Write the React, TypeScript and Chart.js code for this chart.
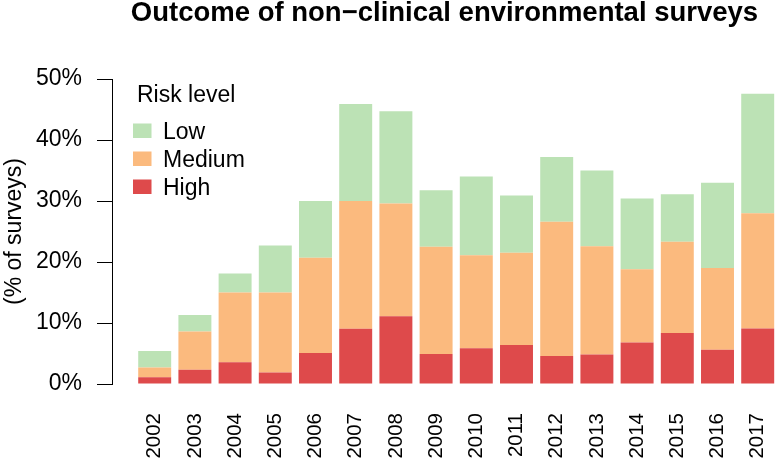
import { useEffect, useRef } from "react";
import { Chart, registerables } from "chart.js";

Chart.register(...registerables);

// ---- data (percent of surveys) ----
const years = ["2002", "2003", "2004", "2005", "2006", "2007", "2008", "2009", "2010", "2011", "2012", "2013", "2014", "2015", "2016", "2017"];
const highRisk = [1.1, 2.35, 3.55, 1.9, 5.1, 9.05, 11.1, 4.9, 5.85, 6.4, 4.6, 4.85, 6.8, 8.35, 5.6, 9.1];
const mediumRisk = [1.6, 6.25, 11.45, 13.1, 15.6, 20.95, 18.5, 17.6, 15.25, 15.1, 22.0, 17.75, 12.0, 14.95, 13.4, 18.9];
const lowRisk = [2.7, 2.7, 3.1, 7.7, 9.3, 15.9, 15.1, 9.25, 12.9, 9.4, 10.6, 12.4, 11.6, 7.8, 14.0, 19.6];
const yTickValues = [0, 10, 20, 30, 40, 50];
const seriesNames = ["High", "Medium", "Low"];
const chartTitle = "Outcome of non\u2212clinical environmental surveys";
const yAxisTitle = "(% of surveys)";
const legendTitle = "Risk level";

// ---- styles ----
const FONT = "'Liberation Sans', Arial, Helvetica, sans-serif";
const COLORS = ["#DE4A4B", "#FBBA7E", "#BCE2B5"];

const insetLegend = {
  id: "insetLegend",
  afterDatasetsDraw(chart: any) {
    const { ctx, chartArea } = chart;
    const left = chartArea.left;
    const top = chartArea.top;
    ctx.save();
    ctx.font = `23px ${FONT}`;
    ctx.textAlign = "left";
    ctx.textBaseline = "alphabetic";
    ctx.fillStyle = "#000";
    ctx.fillText(legendTitle, left + 25, top + 23);
    const items = chart.data.datasets.slice().reverse();
    items.forEach((d: any, i: number) => {
      const y = top + 44.5 + i * 28;
      ctx.fillStyle = d.backgroundColor;
      ctx.fillRect(left + 21, y, 18.5, 14.5);
      ctx.fillStyle = "#000";
      ctx.fillText(d.label, left + 51, y + 15);
    });
    ctx.restore();
  },
};

export default function App() {
  const ref = useRef<HTMLCanvasElement>(null);

  useEffect(() => {
    const series = [highRisk, mediumRisk, lowRisk];
    const chart = new Chart(ref.current as HTMLCanvasElement, {
      type: "bar",
      data: {
        datasets: series.map((vals, k) => ({
          label: seriesNames[k],
          data: vals.map((v, i) => ({ x: i, y: v })),
          backgroundColor: COLORS[k],
          borderWidth: 0,
          barPercentage: 0.82,
          categoryPercentage: 1,
        })),
      },
      options: {
        animation: false,
        responsive: true,
        maintainAspectRatio: false,
        layout: { padding: 0 },
        plugins: {
          legend: { display: false },
          tooltip: { enabled: false },
          title: {
            display: true,
            text: chartTitle,
            fullSize: false,
            color: "#000",
            font: { family: FONT, size: 27.5, weight: "bold", lineHeight: 1 },
            padding: { top: 0, bottom: 51.5 },
          },
        },
        scales: {
          x: {
            type: "linear",
            stacked: true,
            min: -1.062,
            max: 15.48,
            offset: false,
            afterBuildTicks: (s: any) => {
              s.ticks = years.map((_, i) => ({ value: i }));
            },
            afterFit: (s: any) => {
              s.height = 84;
              s.paddingLeft = 0;
              s.paddingRight = 0;
            },
            grid: { display: false, drawTicks: false },
            border: { display: false },
            ticks: {
              autoSkip: false,
              minRotation: 90,
              maxRotation: 90,
              padding: 29,
              color: "#000",
              font: { family: FONT, size: 20.5 },
              callback: (v: any) => years[v] ?? "",
            },
          },
          y: {
            stacked: true,
            min: 0,
            max: 50,
            afterBuildTicks: (s: any) => {
              s.ticks = yTickValues.map((v) => ({ value: v }));
            },
            afterFit: (s: any) => {
              s.width = 112;
              s.paddingTop = 0;
              s.paddingBottom = 0;
            },
            grid: { drawOnChartArea: false, drawTicks: true, tickLength: 15, color: "#000", lineWidth: 1 },
            border: { display: true, color: "#000", width: 1 },
            ticks: {
              padding: 15,
              color: "#000",
              font: { family: FONT, size: 23 },
              callback: (v: any) => `${v}%`,
            },
            title: {
              display: true,
              text: yAxisTitle,
              color: "#000",
              font: { family: FONT, size: 23 },
              padding: { top: 1, bottom: 0 },
            },
          },
        },
      } as any,
      plugins: [insetLegend],
    });
    return () => chart.destroy();
  }, []);

  return (
    <div style={{ position: "absolute", left: 0, top: 0, width: 777, height: 468, background: "#fff" }}>
      <canvas ref={ref} />
    </div>
  );
}
